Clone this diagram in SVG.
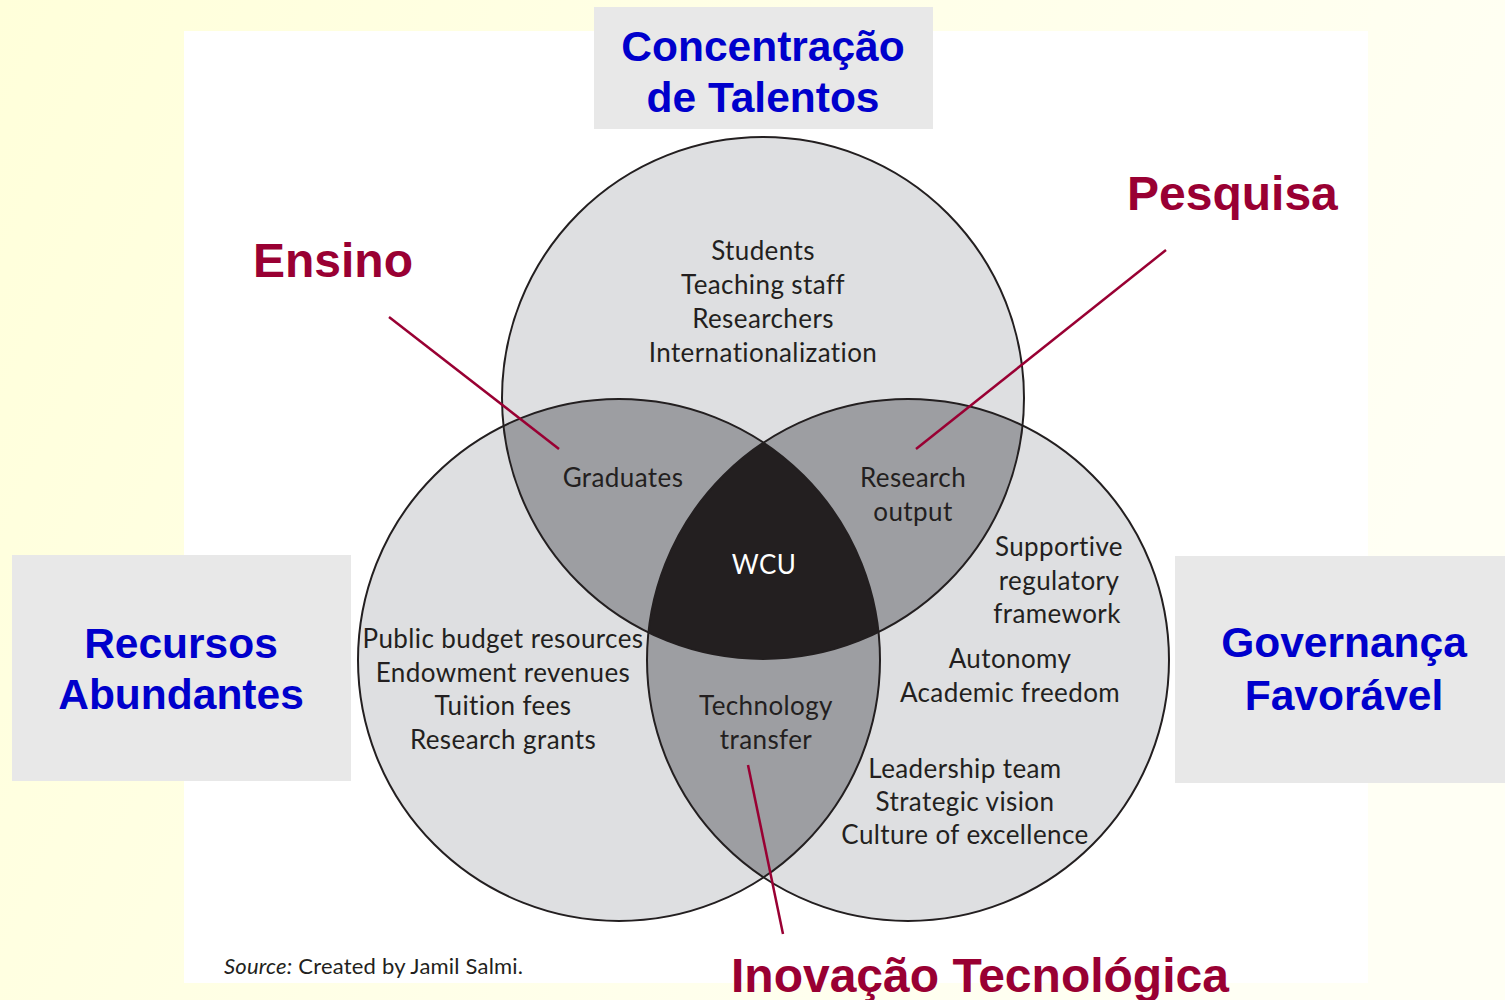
<svg xmlns="http://www.w3.org/2000/svg" width="1505" height="1000" viewBox="0 0 1505 1000">
<defs>
<linearGradient id="bg" x1="0" y1="0" x2="1" y2="0.3">
<stop offset="0" stop-color="#FFFFDA"/>
<stop offset="1" stop-color="#FFFFF4"/>
</linearGradient>
<clipPath id="cT"><circle cx="763" cy="398" r="261"/></clipPath>
<clipPath id="cL"><circle cx="619" cy="660" r="261"/></clipPath>
<clipPath id="cR"><circle cx="908" cy="660" r="261"/></clipPath>
<style>
.box{fill:#E8E8E8}
.blue{font-family:"Liberation Sans",Arial,sans-serif;font-weight:bold;font-size:42.5px;fill:#0000CC;text-anchor:middle}
.red{font-family:"Liberation Sans",Arial,sans-serif;font-weight:bold;font-size:48px;fill:#990033}
.v{font-family:Lato,"Open Sans",sans-serif;font-size:26px;letter-spacing:0.4px;fill:#231F20;text-anchor:middle}
.lite{fill:#DEDFE1}
.mid{fill:#9D9EA2}
.dark{fill:#231F20}
.ring{fill:none;stroke:#231F20;stroke-width:2}
.lead{stroke:#990033;stroke-width:2.5;fill:none}
</style>
</defs>
<rect width="1505" height="1000" fill="url(#bg)"/>
<rect x="184" y="31" width="1184" height="952" fill="#FFFFFF"/>

<g id="venn">
<circle class="lite" cx="763" cy="398" r="261"/>
<circle class="lite" cx="619" cy="660" r="261"/>
<circle class="lite" cx="908" cy="660" r="261"/>
<circle class="mid" cx="619" cy="660" r="261" clip-path="url(#cT)"/>
<circle class="mid" cx="908" cy="660" r="261" clip-path="url(#cT)"/>
<circle class="mid" cx="908" cy="660" r="261" clip-path="url(#cL)"/>
<g clip-path="url(#cT)"><circle class="dark" cx="908" cy="660" r="261" clip-path="url(#cL)"/></g>
<circle class="ring" cx="763" cy="398" r="261"/>
<circle class="ring" cx="619" cy="660" r="261"/>
<circle class="ring" cx="908" cy="660" r="261"/>
</g>

<g id="talent-items">
<text class="v" x="763" y="260">Students</text>
<text class="v" x="763" y="294">Teaching staff</text>
<text class="v" x="763" y="328">Researchers</text>
<text class="v" x="763" y="362">Internationalization</text>
</g>
<g id="graduates"><text class="v" x="623" y="487">Graduates</text></g>
<g id="research-output">
<text class="v" x="913" y="487">Research</text>
<text class="v" x="913" y="521">output</text>
</g>
<g id="wcu"><text class="v" x="764" y="574" style="fill:#FFFFFF">WCU</text></g>
<g id="resource-items">
<text class="v" x="503" y="648">Public budget resources</text>
<text class="v" x="503" y="682">Endowment revenues</text>
<text class="v" x="503" y="715">Tuition fees</text>
<text class="v" x="503" y="749">Research grants</text>
</g>
<g id="tech-transfer">
<text class="v" x="766" y="715">Technology</text>
<text class="v" x="766" y="749">transfer</text>
</g>
<g id="governance-items">
<text class="v" x="1059" y="556">Supportive</text>
<text class="v" x="1059" y="590">regulatory</text>
<text class="v" x="1057" y="623">framework</text>
<text class="v" x="1010" y="668">Autonomy</text>
<text class="v" x="1010" y="702">Academic freedom</text>
<text class="v" x="965" y="778">Leadership team</text>
<text class="v" x="965" y="811">Strategic vision</text>
<text class="v" x="965" y="844">Culture of excellence</text>
</g>

<g id="source"><text x="224" y="974" style="font-family:Lato,'Open Sans',sans-serif;font-size:22px;letter-spacing:0.2px;fill:#231F20"><tspan font-style="italic">Source:</tspan> Created by Jamil Salmi.</text></g>

<g id="box-talentos">
<rect class="box" x="594" y="7" width="339" height="122"/>
<text class="blue" x="763" y="61">Concentração</text>
<text class="blue" x="763" y="112">de Talentos</text>
</g>
<g id="box-recursos">
<rect class="box" x="12" y="555" width="339" height="226"/>
<text class="blue" x="181" y="658">Recursos</text>
<text class="blue" x="181" y="709">Abundantes</text>
</g>
<g id="box-governanca">
<rect class="box" x="1175" y="556" width="330" height="227"/>
<text class="blue" x="1344" y="657">Governança</text>
<text class="blue" x="1344" y="710">Favorável</text>
</g>

<g id="label-ensino"><text class="red" x="253" y="277">Ensino</text></g>
<g id="label-pesquisa"><text class="red" x="1127" y="210">Pesquisa</text></g>
<g id="label-inovacao"><text class="red" x="731" y="992">Inovação Tecnológica</text></g>

<g id="connectors">
<line class="lead" x1="389" y1="317" x2="559" y2="449"/>
<line class="lead" x1="1166" y1="250" x2="916" y2="449"/>
<line class="lead" x1="748" y1="765" x2="783" y2="934"/>
</g>
</svg>
